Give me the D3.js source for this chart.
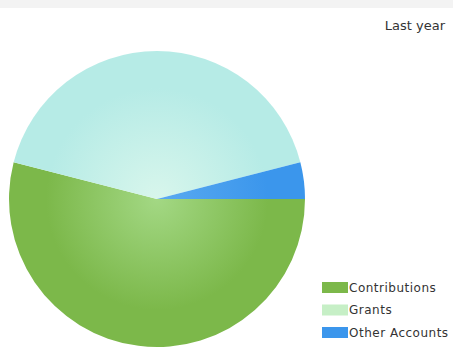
<!DOCTYPE html>
<html>
<head>
<meta charset="utf-8">
<script src="https://cdn.jsdelivr.net/npm/d3@7"></script>
<style>
  body { margin: 0; background: #fff; }
  svg { display: block; }
</style>
</head>
<body>
<div id="chart"></div>
<script>
// pie data
const categories = ['Contributions', 'Grants', 'Other Accounts']
const values = [54, 42, 4]
const colors = ['#7cb84a', '#b6ebe6', '#3b96ec']
const centerColors = ['#a3d884', '#d8f6ec', '#5aaaf0']
const legendColors = ['#7cb84a', '#c6efc6', '#3b96ec']

const width = 453,
  height = 349,
  radius = 148

let svg = d3.select('#chart')
  .append('svg')
  .attr('width', width)
  .attr('height', height)

// faint header band at the top
svg.append('rect')
  .attr('x', 0).attr('y', 0)
  .attr('width', width).attr('height', 8)
  .attr('fill', '#f3f3f3')

let defs = svg.append('defs')
categories.forEach((c, i) => {
  let g = defs.append('radialGradient')
    .attr('id', 'grad' + i)
    .attr('gradientUnits', 'userSpaceOnUse')
    .attr('cx', 0).attr('cy', 0).attr('r', radius)
  g.append('stop').attr('offset', '0%').attr('stop-color', centerColors[i])
  g.append('stop').attr('offset', '75%').attr('stop-color', colors[i])
  g.append('stop').attr('offset', '100%').attr('stop-color', colors[i])
})

let data = categories.map((c, i) => ({ name: c, value: values[i], i: i }))

let pie = d3.pie()
  .sort(null)
  .value(d => d.value)
  .startAngle(Math.PI / 2)
  .endAngle(Math.PI / 2 + 2 * Math.PI)

let arc = d3.arc()
  .innerRadius(0)
  .outerRadius(radius)

let g = svg.append('g')
  .attr('transform', 'translate(157,199)')

g.selectAll('path')
  .data(pie(data))
  .enter()
  .append('path')
  .attr('d', arc)
  .attr('fill', d => 'url(#grad' + d.data.i + ')')

// title at top right
svg.append('text')
  .attr('x', 445)
  .attr('y', 30)
  .attr('text-anchor', 'end')
  .style('font-family', 'DejaVu Sans, sans-serif')
  .style('font-size', '13px')
  .attr('fill', '#333')
  .text('Last year')

// legend
let legendY = d3.scalePoint()
  .domain(categories)
  .range([287, 332])

let legend = svg.selectAll('.legend')
  .data(data)
  .enter()
  .append('g')
  .attr('class', 'legend')
  .attr('transform', d => 'translate(322,' + legendY(d.name) + ')')

legend.append('rect')
  .attr('x', 0)
  .attr('y', -5)
  .attr('width', 26)
  .attr('height', 11)
  .attr('fill', d => legendColors[d.i])

legend.append('text')
  .attr('x', 27)
  .attr('y', 4.5)
  .style('font-family', 'DejaVu Sans, sans-serif')
  .style('font-size', '12px')
  .style('letter-spacing', '0.5px')
  .attr('fill', '#333')
  .text(d => d.name)
</script>
</body>
</html>
